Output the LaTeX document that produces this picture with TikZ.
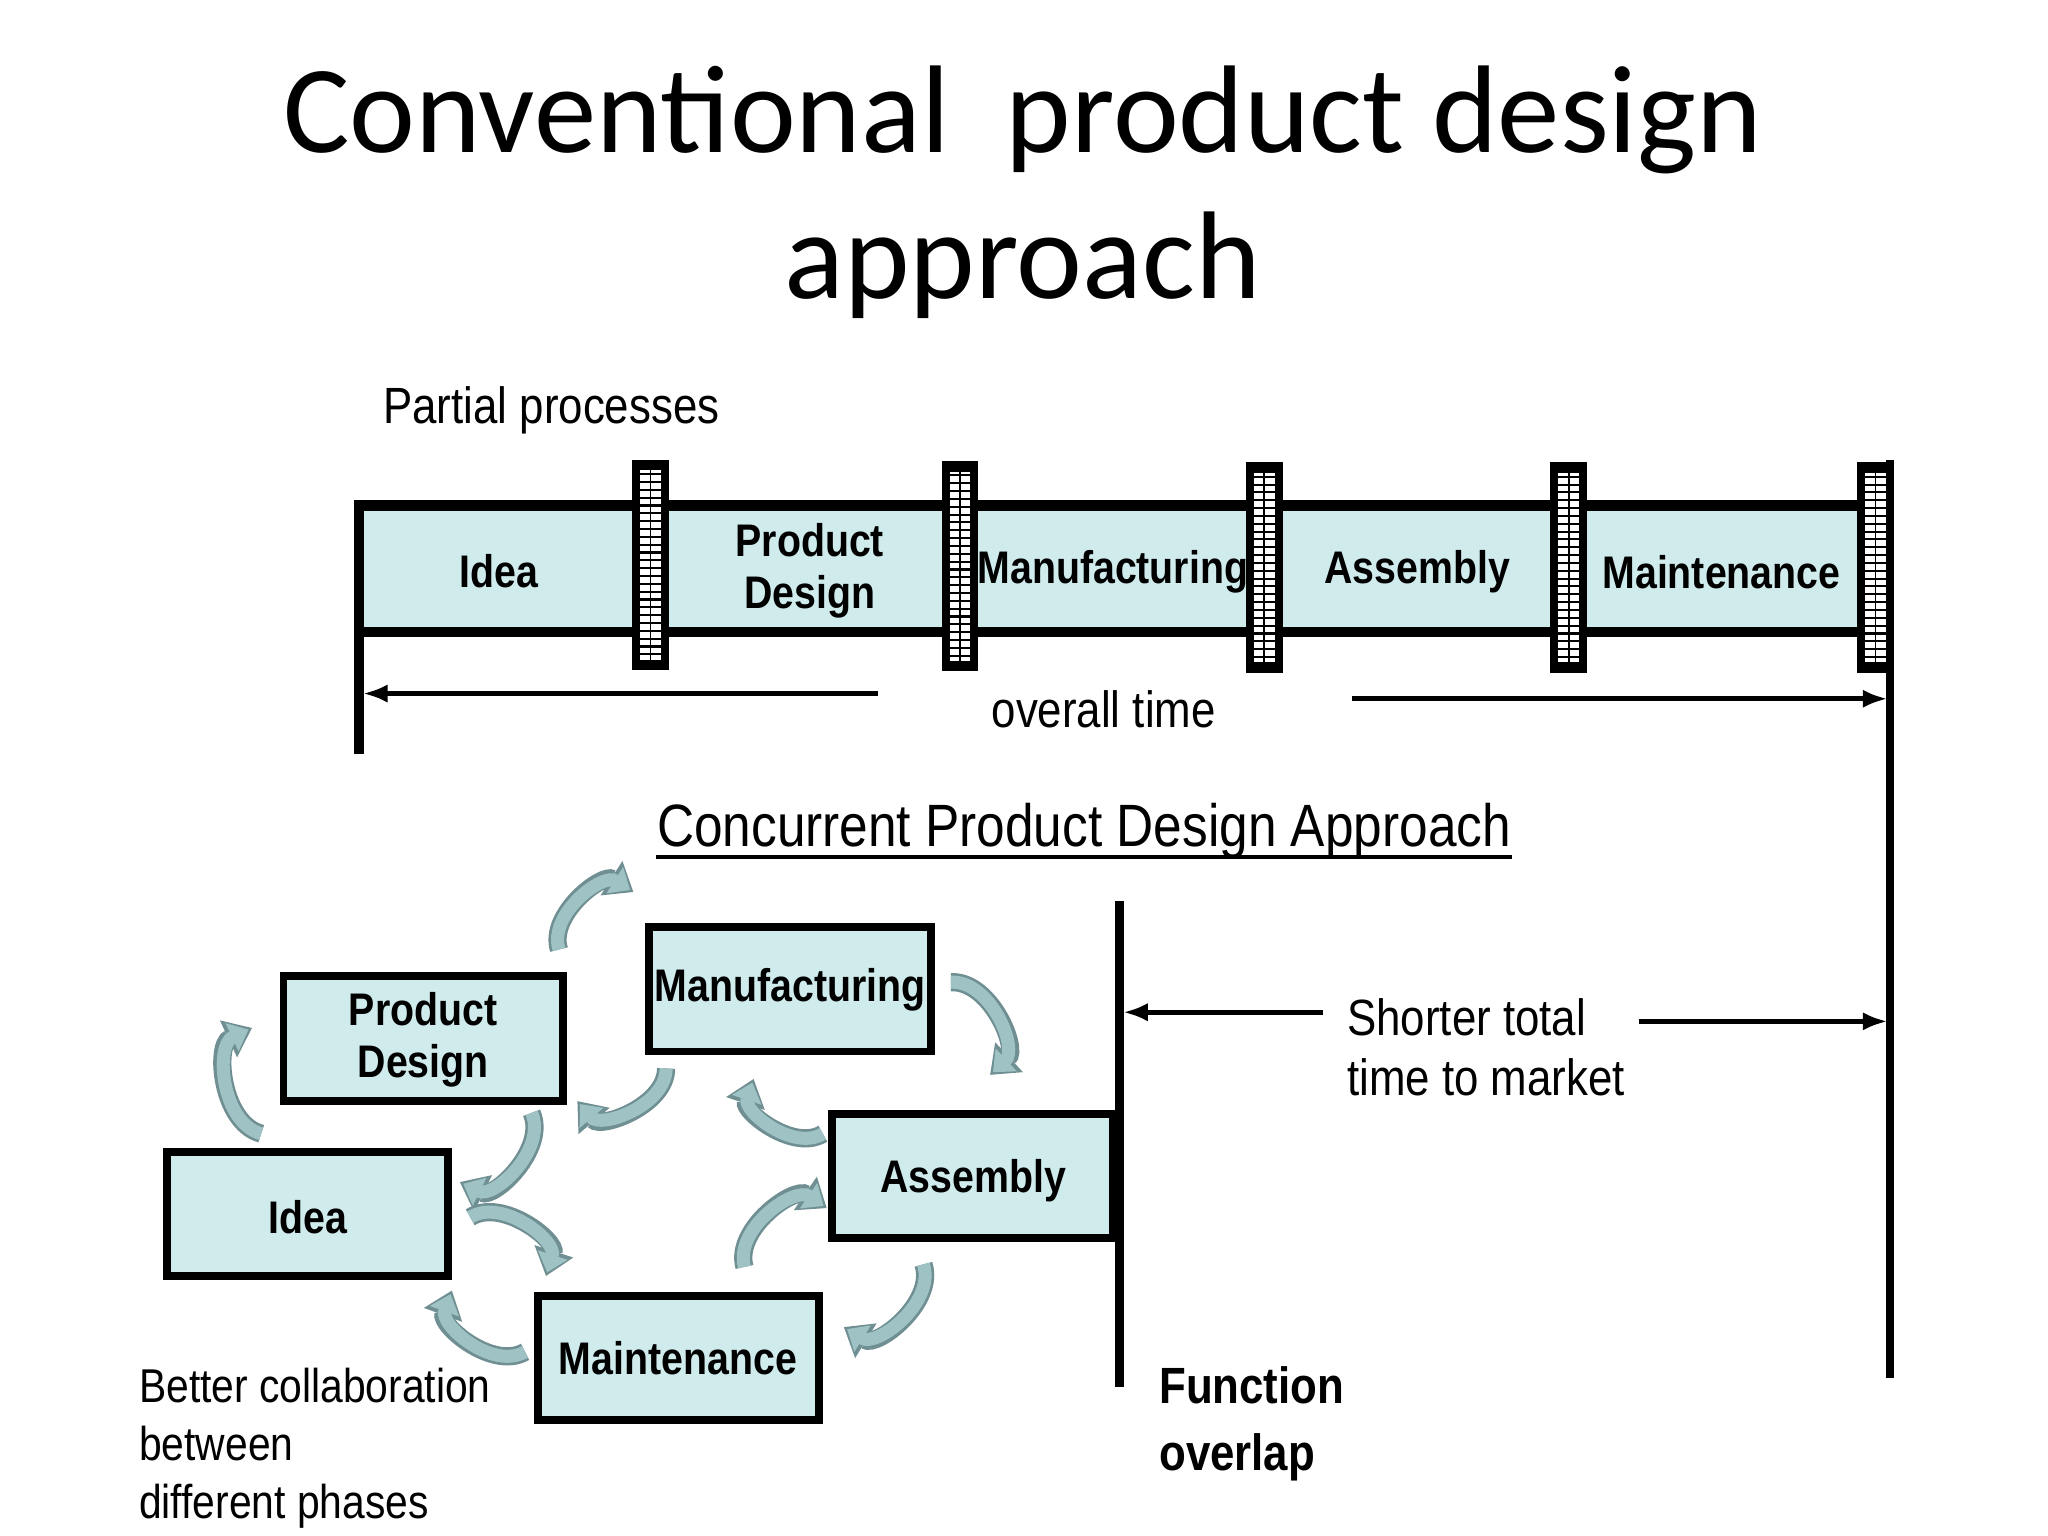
\documentclass[tikz,border=0pt]{standalone}
\usepackage{fontspec}
\setmainfont{Liberation Sans}
\newfontfamily\titlef{Carlito}
\newfontfamily\narr{Liberation Sans}[FakeStretch=0.86]
\usetikzlibrary{arrows.meta}
\definecolor{boxc}{HTML}{CFEBEC}
\definecolor{arc}{HTML}{9FC3C5}
\definecolor{arcb}{HTML}{6F8F92}
\begin{document}
\begin{tikzpicture}[x=0.01306cm,y=-0.01306cm,
  lab/.style={font=\narr\bfseries\fontsize{13}{15}\selectfont,align=center,inner sep=0pt},
  txt/.style={font=\narr\fontsize{14.5}{17}\selectfont,inner sep=0pt},
  box/.style={draw=black,line width=2.2pt,fill=boxc},
  carr/.style={line width=14*0.37pt,draw=arcb,-{Triangle[length=20*0.37pt,width=30*0.37pt]}},
  carri/.style={line width=10*0.37pt,draw=arc,-{Triangle[length=14*0.37pt,width=23*0.37pt]},shorten >=3*0.37pt}]
\useasboundingbox (0,0) rectangle (1568,1176);
% title
\node[font=\titlef\fontsize{35.5}{40}\selectfont] (t1) at (783,92) {Conventional\ \ product design};
\node[font=\titlef\fontsize{35.5}{40}\selectfont] (t2) at (783,203) {approach};
\node[txt,anchor=west] (pp) at (293,314) {Partial processes};
% top bar
\fill[boxc] (275,390) rectangle (1445,482);
\draw[line width=3pt] (275,577) -- (275,387) -- (1445,387);
\draw[line width=3pt] (275,484) -- (1445,484);
\draw[line width=2.4pt] (1447,352) -- (1447,1055);
\foreach \c/\t in {498/352,735/353,968/354,1201/354,1436/354}{
  \fill[black] (\c-14,\t) rectangle (\c+14,\t+161);
  \fill[white] (\c-8,\t+8) rectangle (\c+8,\t+153);
  \foreach \yy in {0,6,...,138}{
    \draw[black,line width=0.6pt] (\c-8,\t+11+\yy) -- (\c+8,\t+11+\yy);}
  \draw[black,line width=0.5pt] (\c,\t+8) -- (\c,\t+153);
}
\node[lab] (i1) at (382,437) {Idea};
\node[lab] (p1) at (620,437) {Product\\Design};
\node[lab] (m1) at (852,438) {Manufacturing};
\node[lab] (a1) at (1085,438) {Assembly};
\node[lab] (n1) at (1318,438) {Maintenance};
\node[txt] (ot) at (845,543) {overall time};
\coordinate (ol) at (278,531); \coordinate (olb) at (672,531);
\coordinate (or) at (1445,535); \coordinate (orb) at (1035,535);
\draw[line width=1.3pt,-{Latex[length=7pt]}] (olb) -- (ol);
\draw[line width=1.3pt,-{Latex[length=7pt]}] (orb) -- (or);
% concurrent
\node[font=\narr\fontsize{17}{20}\selectfont,inner sep=0pt] (ct) at (830,636) {Concurrent Product Design Approach};
\draw[line width=1.2pt] (502,656) -- (1158,656);
\draw[box] (217,747) rectangle (431,843);
\node[lab] (pd) at (324,796) {Product\\Design};
\draw[box] (497,710) rectangle (713,805);
\node[lab] (mf) at (605,758) {Manufacturing};
\draw[box] (128,882) rectangle (343,977);
\node[lab] (id) at (236,932) {Idea};
\draw[box] (637,853) rectangle (852,948);
\node[lab] (as) at (745,904) {Assembly};
\draw[box] (412,992) rectangle (627,1087);
\node[lab] (mn) at (519,1040) {Maintenance};
\draw[line width=2.4pt] (857,690) -- (857,1062);
\coordinate (sl) at (860,775); \coordinate (slb) at (1013,775);
\coordinate (sr) at (1445,782); \coordinate (srb) at (1255,782);
\draw[line width=1.3pt,-{Latex[length=7pt]}] (slb) -- (sl);
\draw[line width=1.3pt,-{Latex[length=7pt]}] (srb) -- (sr);
\node[txt,anchor=west,align=left] (st) at (1031,802) {Shorter total\\time to market};
\node[font=\narr\bfseries\fontsize{14.5}{19}\selectfont,anchor=west,align=left,inner sep=0pt] (fo) at (887,1090) {Function\\overlap};
\node[font=\narr\fontsize{13.5}{16.5}\selectfont,anchor=north west,align=left,inner sep=0pt] (bc) at (106,1047) {Better collaboration\\between\\different phases};
% curved arrows
\foreach \sx/\sy/\ex/\ey in {
  428/727/485/683,
  200/868/193/787,
  407/852/352/905,
  510/818/442/843,
  728/752/758/823,
  630/868/577/826,
  570/970/633/925,
  707/968/646/1016,
  360/932/418/977,
  402/1035/346/988}{
  \draw[carr] (\sx,\sy) to[bend left=70] (\ex,\ey);
  \draw[carri] (\sx,\sy) to[bend left=70] (\ex,\ey);
}
\end{tikzpicture}
\end{document}
